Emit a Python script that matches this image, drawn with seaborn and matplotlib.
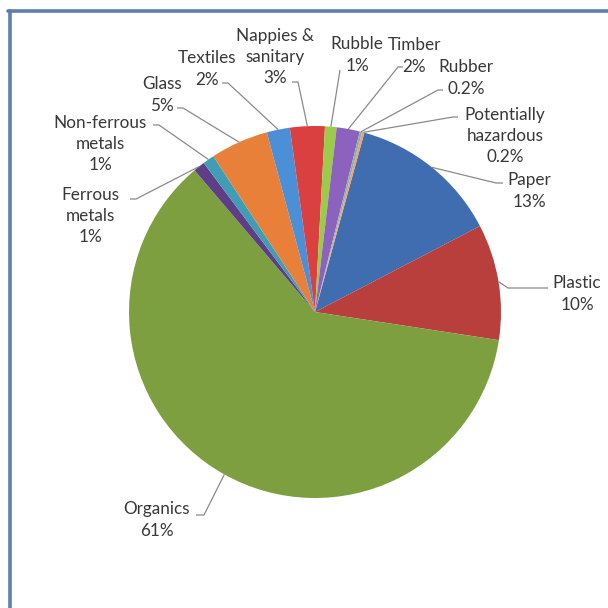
import numpy as np
import matplotlib
matplotlib.use("Agg")
import matplotlib.pyplot as plt
import seaborn as sns

# ---- data ----
categories = ["Paper", "Plastic", "Organics", "Ferrous\nmetals", "Non-ferrous\nmetals",
              "Glass", "Textiles", "Nappies &\nsanitary", "Rubble", "Timber",
              "Rubber", "Potentially\nhazardous"]
values = [13, 10, 61, 1, 1, 5, 2, 3, 1, 2, 0.2, 0.2]
pct_labels = ["13%", "10%", "61%", "1%", "1%", "5%", "2%", "3%", "1%", "2%", "0.2%", "0.2%"]
colors = ["#3F6DAF", "#B83F3B", "#7E9F40", "#5E3F86", "#3F9DB6", "#E9803A",
          "#4B8FD6", "#D9403F", "#9CCB4A", "#8C62BE", "#7FB1BF", "#F2A05E"]

sns.set_theme(style="white")
plt.rcParams['font.family'] = ['Lato', 'DejaVu Sans']

W = 608
fig = plt.figure(figsize=(6.08, 6.08), dpi=100)
ax = fig.add_axes([0, 0, 1, 1])

def Y(y):  # image row -> data y
    return W - y

cx, cy, R = 315, 312, 186
start = 74.6  # math degrees, first wedge (Paper) start
wedges, _ = ax.pie(values, colors=colors, startangle=start, counterclock=False,
                   center=(cx, Y(cy)), radius=R, frame=True,
                   wedgeprops=dict(linewidth=0))
ax.set_xlim(0, W)
ax.set_ylim(0, W)
ax.set_aspect('equal')
ax.axis('off')

# label layout (image pixel coords): line end, elbow offset, text centre
layout = [
    ((503, 183), -7, (529, 191)),
    ((548, 288), -40, (577, 294)),
    ((196, 515), 8, (157, 520)),
    ((130, 199), 6, (90, 216)),
    ((153, 125), 6, (100, 144)),
    ((177, 108), 6, (162, 95)),
    ((222, 83), 6, (207, 69)),
    ((292, 82), 6, (275, 57)),
    ((340, 70), 0, (357, 55)),
    ((403, 67), -5, (414, 56)),
    ((443, 90), -5, (466, 78)),
    ((458, 117), -5, (505, 136)),
]

for w, cat, pct, (end, elb, tc) in zip(wedges, categories, pct_labels, layout):
    ang = np.deg2rad((w.theta1 + w.theta2) / 2)
    sx = cx + R * np.cos(ang)
    sy = Y(cy) + R * np.sin(ang)
    ex, ey = end[0], Y(end[1])
    if elb != 0:
        xs = [sx, ex + elb, ex]
        ys = [sy, ey, ey]
    else:
        xs = [sx, ex]
        ys = [sy, ey]
    ax.plot(xs, ys, color="#8A8A8A", lw=0.9, solid_capstyle='butt')
    ax.text(tc[0], Y(tc[1]), cat + "\n" + pct, ha='center', va='center',
            fontsize=12.3, color="#383838", linespacing=1.42)

# frame
from matplotlib.lines import Line2D
fig.add_artist(Line2D([8/W, 1], [1 - 11/W, 1 - 11/W], color="#5E7FA8", lw=2.6,
                      transform=fig.transFigure))
fig.add_artist(Line2D([10/W, 10/W], [0, 1 - 11/W], color="#5E7FA8", lw=2.6,
                      transform=fig.transFigure))

fig.savefig("out.png", dpi=100, facecolor="white")
